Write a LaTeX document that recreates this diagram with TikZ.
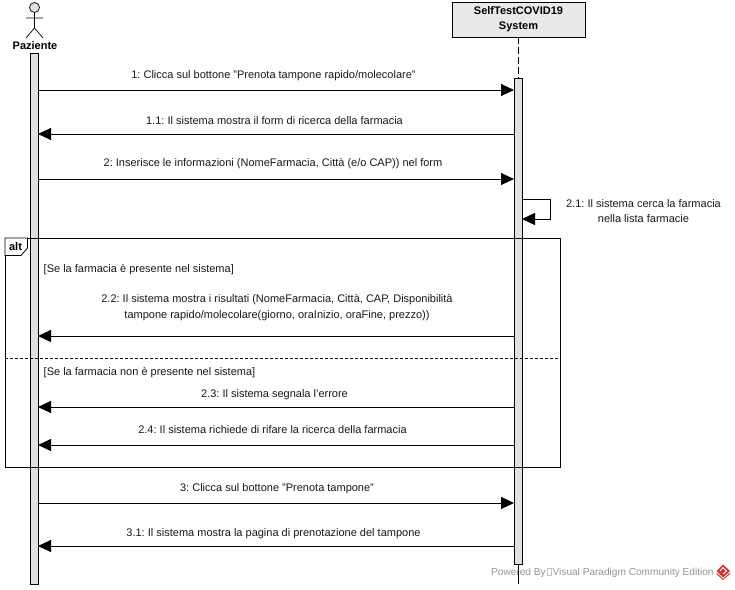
\documentclass[tikz,border=0pt]{standalone}
\usepackage{fontspec}
\setmainfont{Liberation Sans}
\usetikzlibrary{arrows.meta}
\definecolor{barfill}{RGB}{224,224,224}
\definecolor{wmgray}{RGB}{150,150,150}
\definecolor{logored}{RGB}{205,50,50}
\tikzset{
  x=1pt,y=-1pt,
  bar/.style={draw=black,fill=barfill,line width=0.9pt,minimum width=8pt,inner sep=0pt,outer sep=0pt,anchor=north},
  msg/.style={draw=black,line width=0.9pt,-{Triangle[length=13pt,width=12pt,fill=black]}},
  lbl/.style={font=\fontsize{11pt}{15.5pt}\selectfont\frenchspacing,text=black!90,inner sep=0pt,align=center},
  bold/.style={font=\fontsize{11pt}{15pt}\selectfont\bfseries,text=black,inner sep=0pt,align=center},
  frameline/.style={draw=black,line width=0.8pt},
}
\begin{document}
\begin{tikzpicture}
\useasboundingbox (0,0) rectangle (735,589);
\fill[white] (0,0) rectangle (735,589);
% participant box
\node[draw=black,fill=barfill!70,line width=0.9pt,minimum width=133pt,minimum height=35pt,inner sep=0pt,outer sep=0pt] (sys) at (518.5,19.5) {};
\node[bold] (sysl) at (518.5,19) {SelfTestCOVID19\\System};
\coordinate (sysend) at (518,583.5);
% actor
\node[draw=black,fill=barfill,circle,minimum size=10pt,inner sep=0pt,line width=0.7pt] (head) at (34.5,7.5) {};
\coordinate (hip) at (34.5,28);
\coordinate (armL) at (26,18);
\coordinate (armR) at (43,18);
\coordinate (legL) at (26,38);
\coordinate (legR) at (43,38);
\draw[line width=0.7pt] (head.south) -- (hip) (armL) -- (armR) (legL) -- (hip) -- (legR);
\node[bold] (pz) at (35,45.5) {Paziente};
% bars
\node[bar,minimum height=531pt] (pbar) at (34,53) {};
\node[bar,minimum height=486pt] (sbar) at (518,78) {};
\draw[line width=0.9pt,dash pattern=on 7pt off 3pt] (sys.south -| sbar.north) -- (sbar.north);
\draw[line width=0.9pt] (sbar.south) -- (sysend);
% frame
\node[draw=black,line width=0.8pt,minimum width=555pt,minimum height=229pt,inner sep=0pt,outer sep=0pt,anchor=north west] (alt) at (5,238) {};
\coordinate (tabA) at (27.5,238);
\coordinate (tabB) at (27.5,248);
\coordinate (tabC) at (21,255.5);
\coordinate (tabD) at (5,255.5);
\draw[frameline,fill=white] (tabA) -- (tabB) -- (tabC) -- (tabD) -- (alt.north west) -- cycle;
\node[bold] (altl) at (15.5,246.5) {alt};
\coordinate (divy) at (0,358);
\draw[line width=0.8pt,dash pattern=on 3pt off 2pt] (alt.west |- divy) -- (alt.east |- divy);
% levels
\foreach \n/\y in {a/90,b/134,c/179,d/336,e/407,f/445,g/503,h/546} \coordinate (y\n) at (0,\y);
\draw[msg] (pbar.east |- ya) -- (sbar.west |- ya);
\draw[msg] (sbar.west |- yb) -- (pbar.east |- yb);
\draw[msg] (pbar.east |- yc) -- (sbar.west |- yc);
\draw[msg] (sbar.west |- yd) -- (pbar.east |- yd);
\draw[msg] (sbar.west |- ye) -- (pbar.east |- ye);
\draw[msg] (sbar.west |- yf) -- (pbar.east |- yf);
\draw[msg] (pbar.east |- yg) -- (sbar.west |- yg);
\draw[msg] (sbar.west |- yh) -- (pbar.east |- yh);
% self message
\coordinate (s1) at (0,199);
\coordinate (s2) at (0,219);
\coordinate (sx) at (550,0);
\draw[msg] (sbar.east |- s1) -- (sx |- s1) -- (sx |- s2) -- (sbar.east |- s2);
% labels
\node[lbl] (t1) at (273.5,76) {1: Clicca sul bottone "Prenota tampone rapido/molecolare"};
\node[lbl] (t2) at (274.5,120.5) {1.1: Il sistema mostra il form di ricerca della farmacia};
\node[lbl] (t3) at (273,163.5) {2: Inserisce le informazioni (NomeFarmacia, Città (e/o CAP)) nel form};
\node[lbl] (t4) at (643.5,211) {2.1: Il sistema cerca la farmacia\\nella lista farmacie};
\node[lbl,anchor=west] (t5) at (43.5,270) {[Se la farmacia è presente nel sistema]};
\node[lbl] (t6) at (277,307.5) {2.2: Il sistema mostra i risultati (NomeFarmacia, Città, CAP, Disponibilità\\tampone rapido/molecolare(giorno, oraInizio, oraFine, prezzo))};
\node[lbl,anchor=west] (t7) at (43.5,373) {[Se la farmacia non è presente nel sistema]};
\node[lbl] (t8) at (274.5,395) {2.3: Il sistema segnala l'errore};
\node[lbl] (t9) at (272.5,430) {2.4: Il sistema richiede di rifare la ricerca della farmacia};
\node[lbl] (t10) at (277,489) {3: Clicca sul bottone "Prenota tampone"};
\node[lbl] (t11) at (273.5,534) {3.1: Il sistema mostra la pagina di prenotazione del tampone};
% watermark
\node[lbl,font=\fontsize{10.1pt}{12pt}\selectfont\frenchspacing,text=wmgray,anchor=west] (wm) at (491,572.5) {Powered By\hspace{1pt}\textcolor{wmgray!60}{\fboxsep=0pt\fboxrule=0.3pt\fbox{\rule{0pt}{7pt}\hspace{4.4pt}}}\hspace{1pt}Visual Paradigm Community Edition};
% logo
\fill[logored] (723,564.5) -- (730,571) -- (723,577.5) -- (716.5,571) -- cycle;
\fill[logored] (716.5,572.5) -- (723,579) -- (730,572.5) -- (730,574) -- (723,580) -- (716.5,574) -- cycle;
\draw[white,line width=0.9pt] (720,571) -- (723,567.5) -- (726.5,571) -- (723,574);
\end{tikzpicture}
\end{document}
